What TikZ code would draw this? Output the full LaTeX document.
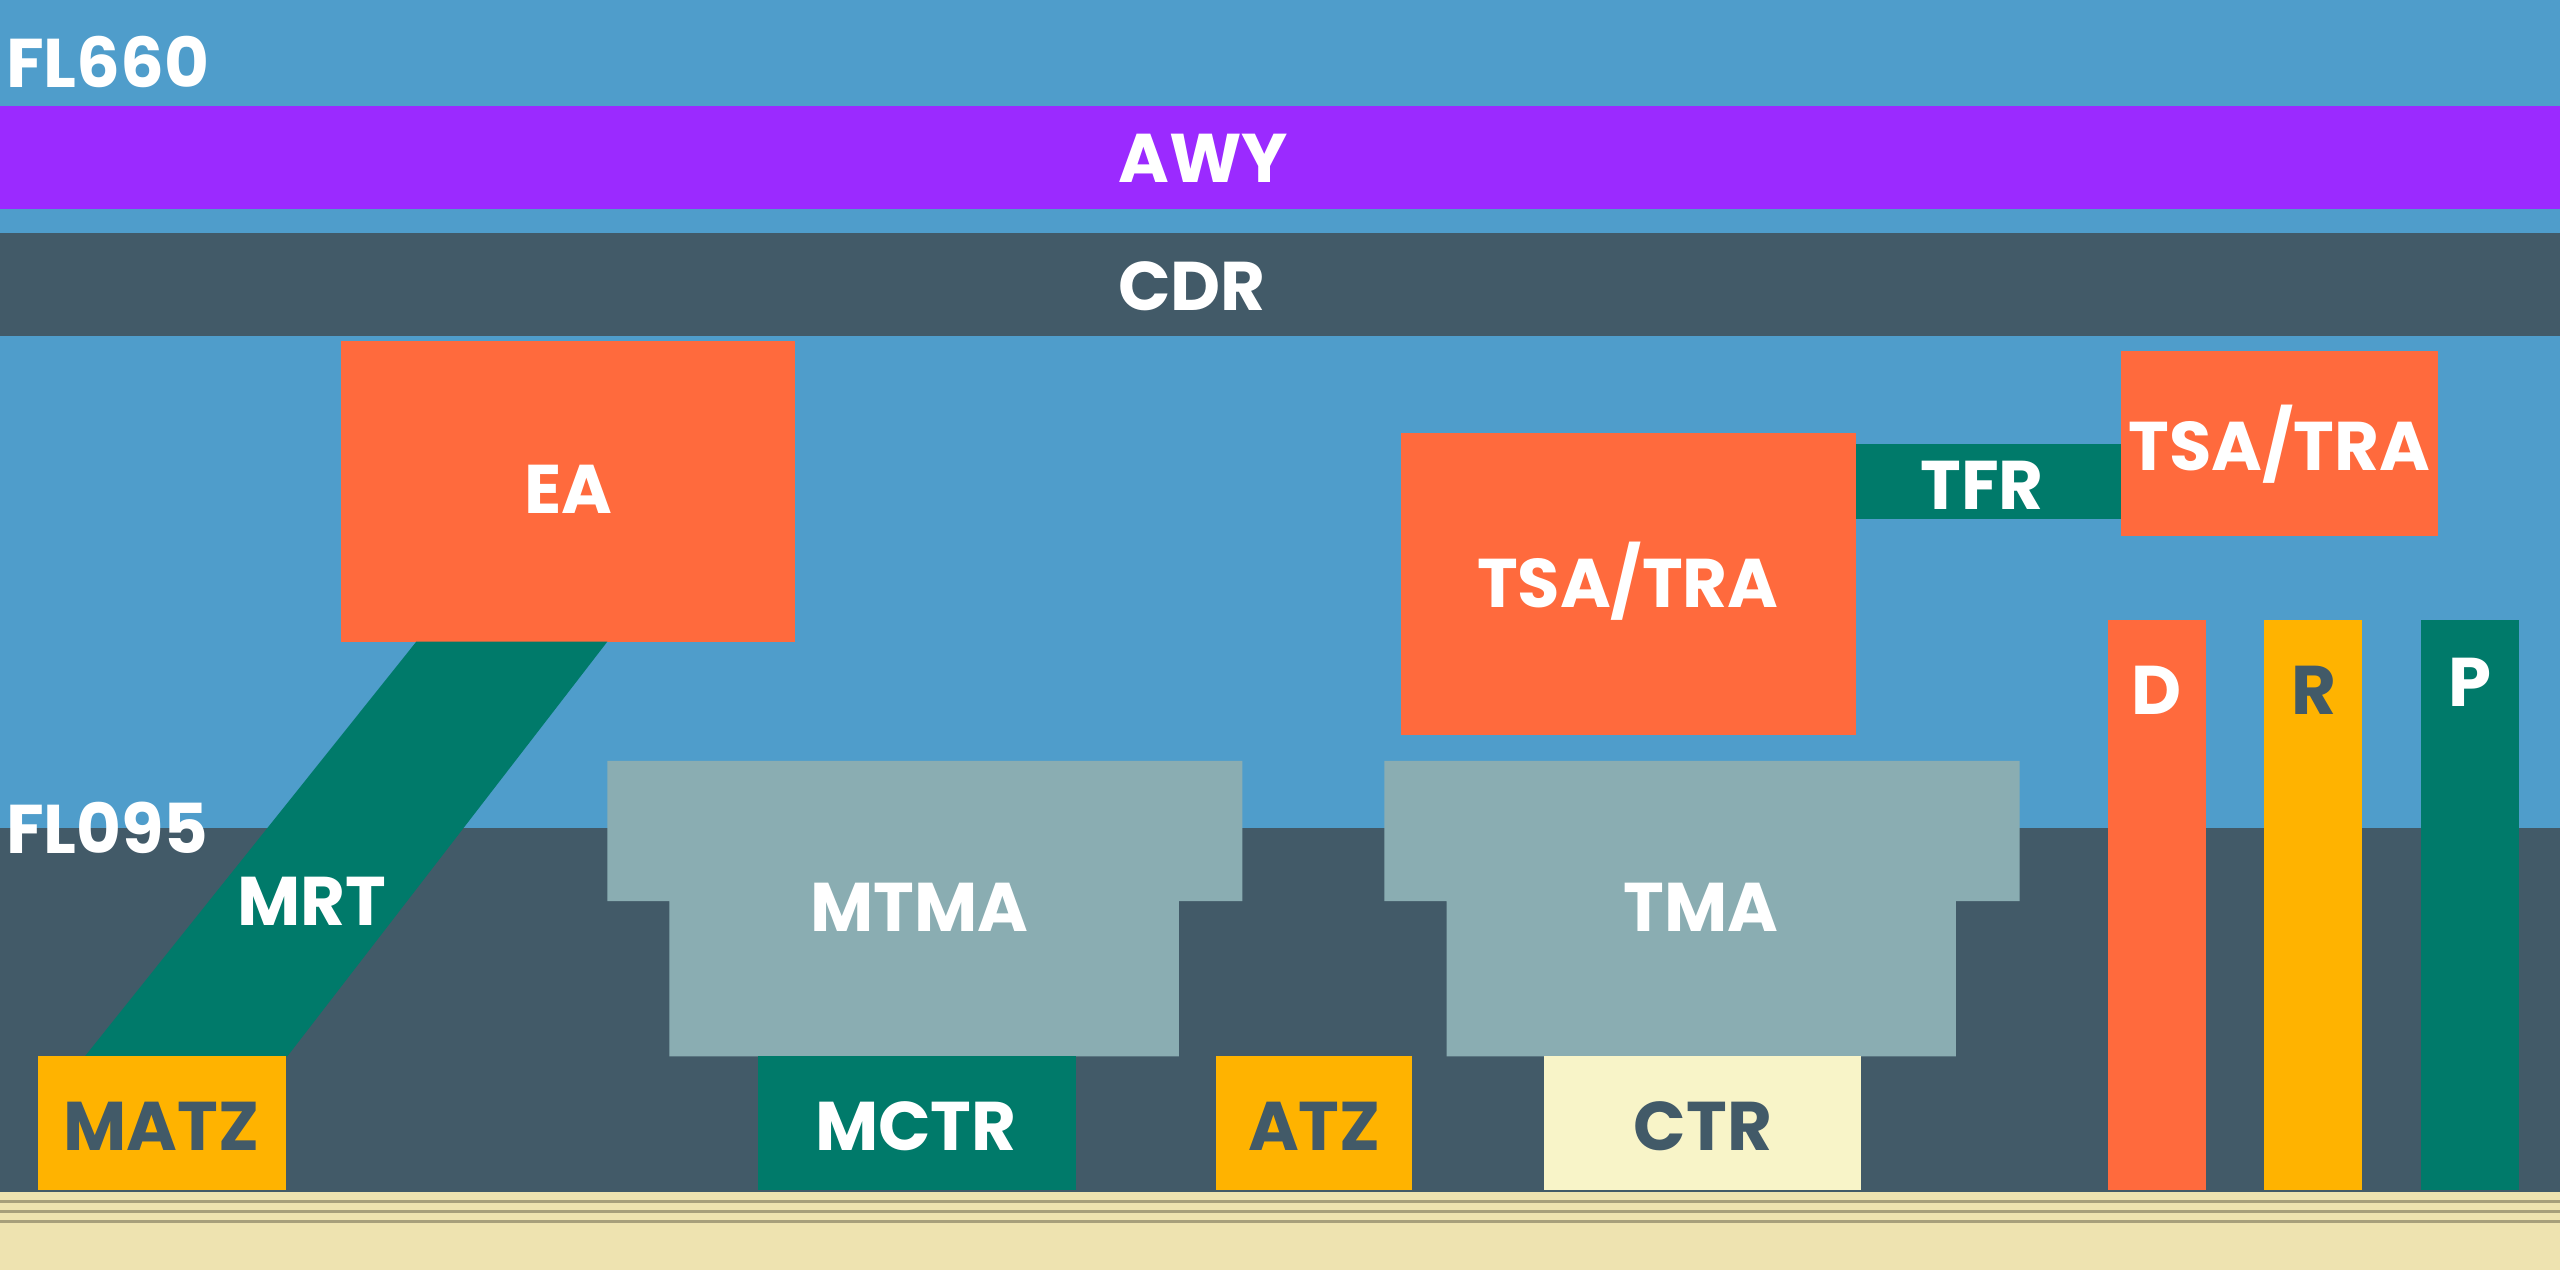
\documentclass[tikz,border=0pt]{standalone}
\usepackage{fontspec}
\setmainfont{Poppins}
\definecolor{sky}{HTML}{4F9DCB}
\definecolor{awy}{HTML}{9B2AFF}
\definecolor{slate}{HTML}{425A68}
\definecolor{zoneor}{HTML}{FF6A3D}
\definecolor{zonegr}{HTML}{007A6A}
\definecolor{zoneyl}{HTML}{FFB300}
\definecolor{tma}{HTML}{8AADB2}
\definecolor{cream}{HTML}{F8F4C8}
\definecolor{ground}{HTML}{EEE3B0}
\begin{document}
\begin{tikzpicture}[x=0.01cm,y=-0.01cm]
\tikzstyle{lbl}=[text=white,font=\fontsize{12}{14}\selectfont\bfseries,inner sep=0pt]
\tikzstyle{dlbl}=[text=slate,font=\fontsize{12}{14}\selectfont\bfseries,inner sep=0pt]
\useasboundingbox (0,0) rectangle (1568,778);
% sky and ground bands
\fill[sky] (0,0) rectangle (1568,778);
\fill[slate] (0,507) rectangle (1568,730);
\fill[ground] (0,730) rectangle (1568,778);
\foreach \y in {736,742,748}
  \draw[ground!70!black,line width=0.6pt] (0,\y) -- (1568,\y);
\fill[awy] (0,65) rectangle (1568,128);
\fill[slate] (0,143) rectangle (1568,206);
% upper zones
\fill[zoneor] (209,209) rectangle (487,393);
\fill[zonegr] (255,393) -- (372,393) -- (176,647) -- (52,647) -- cycle;
\fill[zoneor] (858,265) rectangle (1137,450);
\fill[zonegr] (1137,272) rectangle (1300,318);
\fill[zoneor] (1299,215) rectangle (1493,328);
% terminal areas
\fill[tma] (372,466) rectangle (761,552) (410,552) rectangle (722,647);
\fill[tma] (848,466) rectangle (1237,552) (886,552) rectangle (1198,647);
% ground zones
\fill[zoneyl] (23,647) rectangle (175,729);
\fill[zonegr] (464,647) rectangle (659,729);
\fill[zoneyl] (745,647) rectangle (865,729);
\fill[cream] (946,647) rectangle (1140,729);
\fill[zoneor] (1291,380) rectangle (1351,729);
\fill[zoneyl] (1387,380) rectangle (1447,729);
\fill[zonegr] (1483,380) rectangle (1543,729);
% labels
\node[lbl,anchor=west] (fl660) at (3,38) {FL660};
\node[lbl,anchor=west] (fl095) at (3,507) {FL095};
\node[lbl] (awy) at (737,97) {AWY};
\node[lbl] (cdr) at (730,175) {CDR};
\node[lbl] (ea) at (348,300) {EA};
\node[lbl] (mrt) at (191,552) {MRT};
\node[lbl] (tsa1) at (997,356) {TSA/TRA};
\node[lbl] (tfr) at (1214,297) {TFR};
\node[lbl] (tsa2) at (1396,272) {TSA/TRA};
\node[lbl] (mtma) at (563,556) {MTMA};
\node[lbl] (tma) at (1042,556) {TMA};
\node[dlbl] (matz) at (99,690) {MATZ};
\node[lbl] (mctr) at (561,690) {MCTR};
\node[dlbl] (atz) at (805,690) {ATZ};
\node[dlbl] (ctr) at (1043,690) {CTR};
\node[lbl] (d) at (1321,423) {D};
\node[dlbl] (r) at (1417,423) {R};
\node[lbl] (p) at (1513,418) {P};
\end{tikzpicture}
\end{document}
